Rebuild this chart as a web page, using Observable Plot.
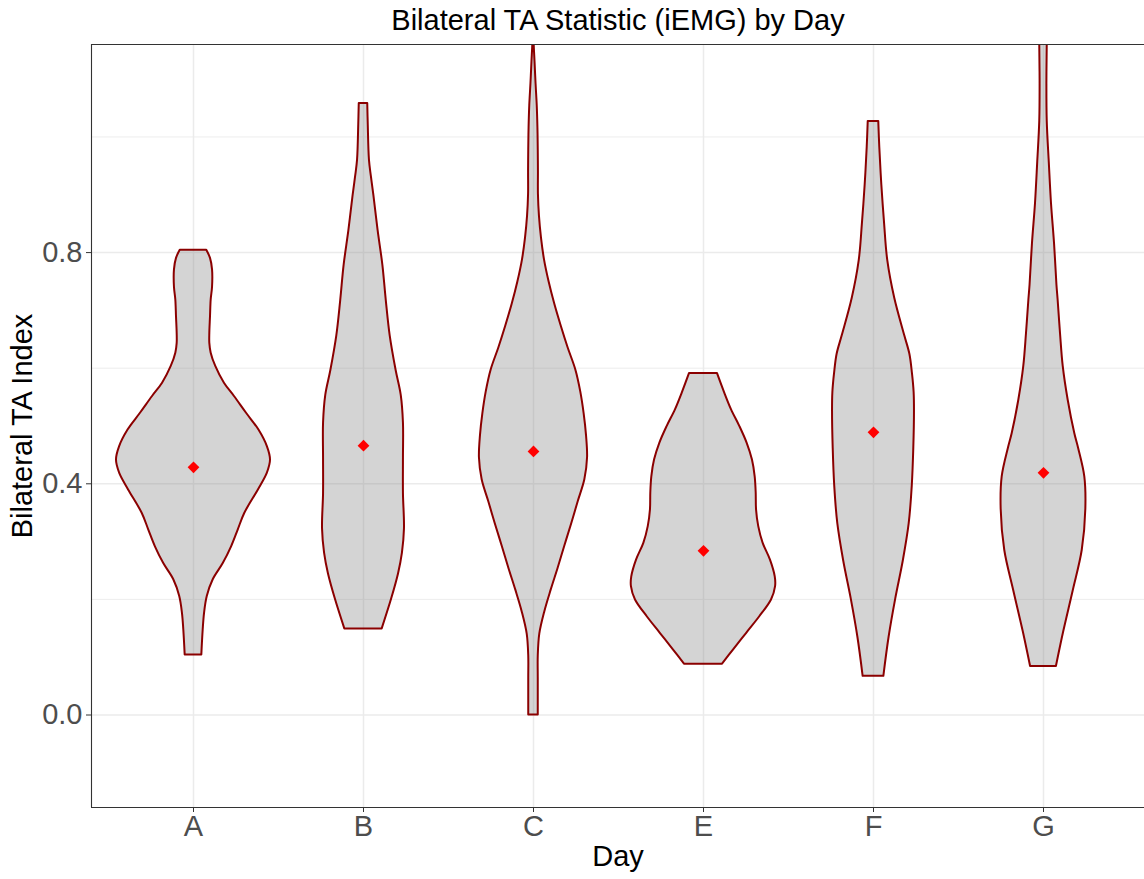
<!DOCTYPE html>
<html>
<head>
<meta charset="utf-8">
<script src="https://cdn.jsdelivr.net/npm/d3@7"></script>
<script src="https://cdn.jsdelivr.net/npm/@observablehq/plot@0.6"></script>
<style>
  body { margin: 0; background: #ffffff; }
  #chart svg { display: block; }
</style>
</head>
<body>
<div id="chart"></div>
<script>
// ---- Data ----
const days = ["A", "B", "C", "E", "F", "G"];

// violin outlines: y value and half-width (in category units)
const yA = [0.104, 0.147, 0.176, 0.205, 0.234, 0.262, 0.291, 0.320, 0.349, 0.389, 0.418, 0.441, 0.464, 0.493, 0.522, 0.551, 0.574, 0.603, 0.626, 0.643, 0.660, 0.689, 0.718, 0.740, 0.770, 0.790, 0.804];
const wA = [0.049, 0.057, 0.065, 0.081, 0.116, 0.175, 0.224, 0.263, 0.302, 0.381, 0.434, 0.453, 0.435, 0.385, 0.312, 0.241, 0.182, 0.131, 0.104, 0.096, 0.096, 0.100, 0.104, 0.112, 0.112, 0.100, 0.078];

const yB = [0.149, 0.201, 0.244, 0.280, 0.322, 0.383, 0.444, 0.505, 0.553, 0.596, 0.656, 0.717, 0.778, 0.838, 0.899, 0.930, 0.960, 1.021, 1.058];
const wB = [0.110, 0.166, 0.206, 0.229, 0.241, 0.235, 0.235, 0.235, 0.222, 0.192, 0.157, 0.134, 0.114, 0.086, 0.061, 0.047, 0.035, 0.028, 0.025];

const yC = [0.000, 0.064, 0.102, 0.140, 0.178, 0.216, 0.254, 0.292, 0.330, 0.369, 0.407, 0.445, 0.483, 0.521, 0.559, 0.597, 0.635, 0.673, 0.711, 0.749, 0.787, 0.825, 0.863, 0.901, 0.939, 0.978, 1.016, 1.054, 1.092, 1.130, 1.160, 1.200];
const wC = [0.028, 0.028, 0.028, 0.037, 0.066, 0.104, 0.145, 0.184, 0.224, 0.263, 0.302, 0.318, 0.312, 0.298, 0.278, 0.249, 0.204, 0.163, 0.125, 0.092, 0.065, 0.047, 0.035, 0.029, 0.029, 0.028, 0.026, 0.022, 0.015, 0.009, 0.004, 0.001];

const yE = [0.088, 0.112, 0.141, 0.170, 0.199, 0.222, 0.239, 0.268, 0.297, 0.326, 0.355, 0.384, 0.412, 0.441, 0.470, 0.499, 0.528, 0.557, 0.591];
const wE = [0.112, 0.175, 0.253, 0.331, 0.400, 0.424, 0.422, 0.394, 0.351, 0.325, 0.312, 0.310, 0.304, 0.288, 0.257, 0.214, 0.165, 0.125, 0.082];

const yF = [0.067, 0.135, 0.201, 0.266, 0.331, 0.396, 0.461, 0.526, 0.558, 0.591, 0.624, 0.656, 0.721, 0.786, 0.851, 0.917, 0.982, 1.027];
const wF = [0.061, 0.092, 0.131, 0.175, 0.210, 0.228, 0.237, 0.241, 0.239, 0.229, 0.214, 0.184, 0.125, 0.084, 0.065, 0.049, 0.037, 0.031];

const yG = [0.084, 0.144, 0.215, 0.285, 0.356, 0.412, 0.462, 0.487, 0.545, 0.603, 0.660, 0.718, 0.744, 0.815, 0.885, 0.956, 1.027, 1.097, 1.160, 1.200];
const wG = [0.076, 0.119, 0.175, 0.228, 0.249, 0.243, 0.206, 0.184, 0.145, 0.116, 0.100, 0.086, 0.079, 0.065, 0.047, 0.034, 0.022, 0.020, 0.022, 0.021];

// means (red diamonds)
const means = [0.4285, 0.466, 0.456, 0.284, 0.489, 0.419];

// axes
const yTicks = [0, 0.4, 0.8];
const yMinorTicks = [0.2, 0.6, 1.0];
const yDomain = [-0.16, 1.16];

const titleText = "Bilateral TA Statistic (iEMG) by Day";
const xTitle = "Day";
const yTitle = "Bilateral TA Index";

// ---- Build tables ----
const profiles = [[yA, wA], [yB, wB], [yC, wC], [yE, wE], [yF, wF], [yG, wG]];
const violinRows = profiles.flatMap(([ys, ws], i) =>
  ys.map((y, j) => ({day: days[i], i, y, w: ws[j]})).sort((a, b) => a.y - b.y)
);
const meanRows = days.map((d, i) => ({day: d, i, m: means[i]}));
const xIdx = d3.range(days.length);
const xDomain = [-0.6, days.length - 0.4];

const FONT = "'Liberation Sans', Arial, Helvetica, sans-serif";

const chart = Plot.plot({
  width: 1144,
  height: 879,
  marginLeft: 91,
  marginRight: 0,
  marginTop: 44,
  marginBottom: 72,
  style: {fontFamily: FONT, background: "#ffffff", overflow: "visible"},
  x: {type: "linear", domain: xDomain, range: [91, 1145]},
  y: {domain: yDomain},
  marks: [
    // grid
    Plot.ruleY(yMinorTicks, {stroke: "#ebebeb", strokeWidth: 0.9}),
    Plot.ruleY(yTicks, {stroke: "#ebebeb", strokeWidth: 1.5}),
    Plot.ruleX(xIdx, {stroke: "#ebebeb", strokeWidth: 1.5}),
    // violins
    Plot.areaX(violinRows, {
      y: "y",
      x1: d => d.i - d.w,
      x2: d => d.i + d.w,
      z: "day",
      fill: "#808080",
      fillOpacity: 0.34,
      stroke: "#8b0000",
      strokeWidth: 2,
      curve: "catmull-rom",
      clip: true
    }),
    // means
    Plot.dot(meanRows, {x: "i", y: "m", symbol: "diamond2", r: 5.3, fill: "#ff0000", stroke: null}),
    // panel border (left, top, bottom)
    Plot.ruleY([yDomain[0], yDomain[1]], {stroke: "#333333", strokeWidth: 1.1}),
    Plot.ruleX([xDomain[0]], {stroke: "#333333", strokeWidth: 1.1}),
    // axes
    Plot.axisY(yTicks, {
      tickSize: 5, tickPadding: 4, fontSize: 29,
      tickFormat: d3.format(".1f"),
      stroke: "#333333", fill: "#4d4d4d", label: null
    }),
    Plot.axisX(xIdx, {
      tickSize: 5, tickPadding: 3, fontSize: 29,
      tickFormat: i => days[i],
      stroke: "#333333", fill: "#4d4d4d", label: null
    }),
    // titles
    Plot.text([titleText], {frameAnchor: "top", dy: -24, lineAnchor: "middle", fontSize: 29, fill: "#000000"}),
    Plot.text([xTitle], {frameAnchor: "bottom", dy: 49, lineAnchor: "middle", fontSize: 29, fill: "#000000"}),
    Plot.text([yTitle], {frameAnchor: "left", dx: -69, rotate: -90, textAnchor: "middle", lineAnchor: "middle", fontSize: 29, fill: "#000000"})
  ]
});

document.getElementById("chart").appendChild(chart);
</script>
</body>
</html>
